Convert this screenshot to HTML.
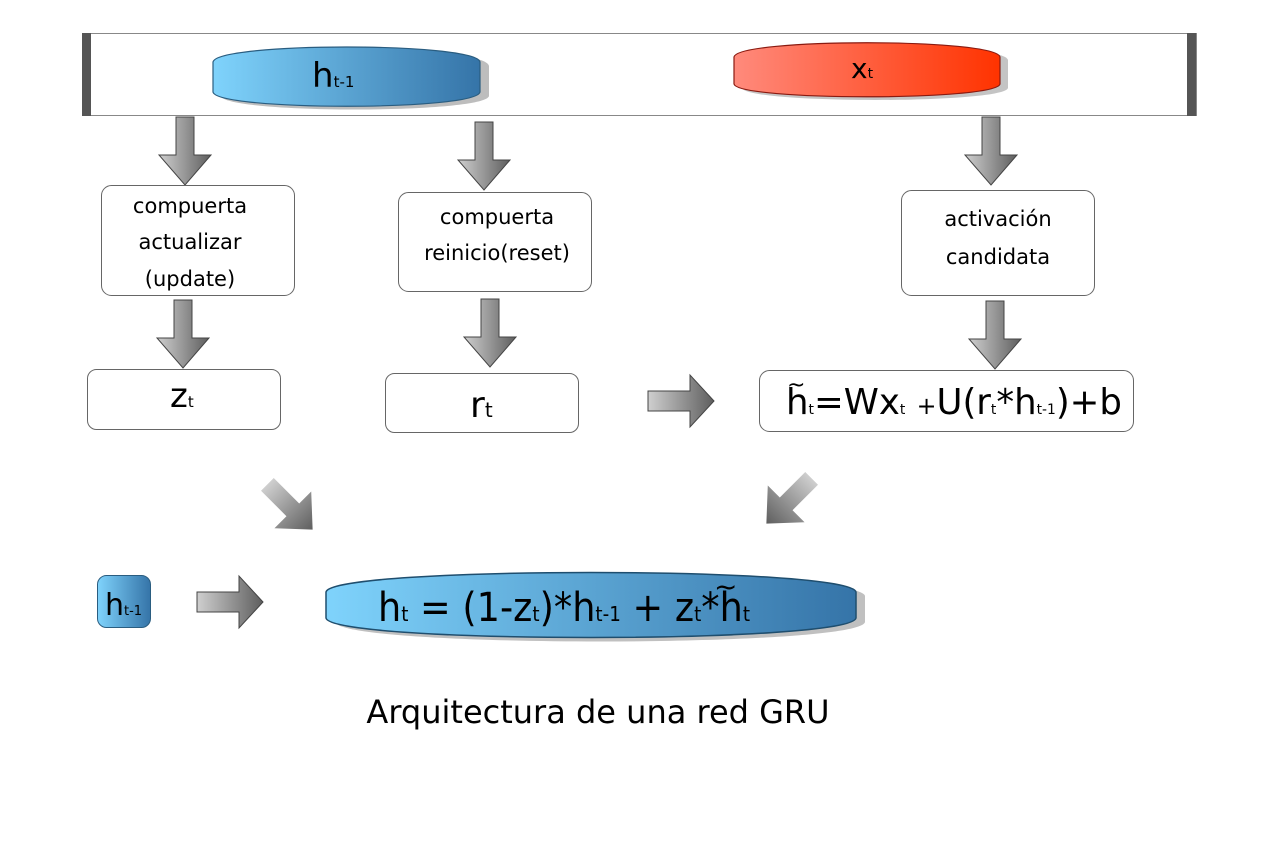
<!DOCTYPE html>
<html><head><meta charset="utf-8"><style>
html,body{margin:0;padding:0;background:#fff;}
svg{display:block;}
text{font-family:"DejaVu Sans","Liberation Sans",sans-serif;fill:#000;}
</style></head><body>
<svg width="1266" height="850" viewBox="0 0 1266 850" xmlns="http://www.w3.org/2000/svg">
<defs>
<linearGradient id="ar" x1="0" y1="0" x2="1" y2="0"><stop offset="0" stop-color="#cfcfcf"/><stop offset="1" stop-color="#5e5e5e"/></linearGradient>
<linearGradient id="blue" x1="0" y1="0" x2="1" y2="0"><stop offset="0" stop-color="#7fd3fc"/><stop offset="1" stop-color="#3574a8"/></linearGradient>
<linearGradient id="red" x1="0" y1="0" x2="1" y2="0"><stop offset="0" stop-color="#ff8a7c"/><stop offset="1" stop-color="#ff3300"/></linearGradient>
<g id="down"><path d="M-9,0 L9,0 L9,38 L26,38 L0,68 L-26,38 L-9,38 Z" fill="url(#ar)" stroke="#444" stroke-width="1"/></g>
<g id="right"><path d="M0,-10 L42,-10 L42,-26 L66,0 L42,26 L42,10 L0,10 Z" fill="url(#ar)" stroke="#444" stroke-width="1"/></g>
<g id="diag"><path d="M-32,-9 L4,-9 L4,-26 L32,0 L4,26 L4,9 L-32,9 Z" fill="url(#ar)"/></g>
</defs>

<rect x="82.5" y="33.5" width="1114" height="82" fill="#fff" stroke="#888" stroke-width="1"/>
<rect x="82" y="33" width="9" height="83" fill="#555"/>
<rect x="1187" y="33" width="9" height="83" fill="#555"/>

<!-- h_{t-1} pill -->
<path d="M221,66 C225,44 485,44 489,66 L489,96 C485,114 225,114 221,96 Z" fill="#bdbdbd"/>
<path d="M213,62 C217,42 476,42 480,62 L480,92 C476,111 217,111 213,92 Z" fill="url(#blue)" stroke="#2a5d80" stroke-width="1.2"/>
<text x="312" y="87" font-size="34">h<tspan font-size="15">t-1</tspan></text>

<!-- x_t pill -->
<path d="M742,60 C746,41 1004,41 1008,60 L1008,88 C1004,104 746,104 742,88 Z" fill="#c4c4c4"/>
<path d="M734,57 C738,38 996,38 1000,57 L1000,84 C996,101 738,101 734,84 Z" fill="url(#red)" stroke="#8a1a10" stroke-width="1.2"/>
<text x="851" y="78" font-size="28">x<tspan font-size="14">t</tspan></text>

<use href="#down" x="185" y="117"/>
<use href="#down" x="484" y="122"/>
<use href="#down" x="991" y="117"/>
<use href="#down" x="183" y="300"/>
<use href="#down" x="490" y="299"/>
<use href="#down" x="995" y="301"/>

<rect x="101.5" y="185.5" width="193" height="110" rx="10" fill="#fff" stroke="#666"/>
<text x="190" y="213" font-size="21" text-anchor="middle">compuerta</text>
<text x="190" y="249" font-size="21" text-anchor="middle">actualizar</text>
<text x="190" y="286" font-size="21" text-anchor="middle">(update)</text>

<rect x="398.5" y="192.5" width="193" height="99" rx="10" fill="#fff" stroke="#666"/>
<text x="497" y="224" font-size="21" text-anchor="middle">compuerta</text>
<text x="497" y="260" font-size="21" text-anchor="middle">reinicio(reset)</text>

<rect x="901.5" y="190.5" width="193" height="105" rx="10" fill="#fff" stroke="#666"/>
<text x="998" y="226" font-size="21" text-anchor="middle">activación</text>
<text x="998" y="264" font-size="21" text-anchor="middle">candidata</text>

<rect x="87.5" y="369.5" width="193" height="60" rx="9" fill="#fff" stroke="#666"/>
<text x="170" y="407" font-size="34">z<tspan font-size="15">t</tspan></text>

<rect x="385.5" y="373.5" width="193" height="59" rx="9" fill="#fff" stroke="#666"/>
<text x="470" y="417" font-size="36">r<tspan font-size="20">t</tspan></text>

<use href="#right" x="648" y="401"/>

<rect x="759.5" y="370.5" width="374" height="61" rx="10" fill="#fff" stroke="#666"/>
<text x="786" y="414" font-size="36" textLength="336" lengthAdjust="spacingAndGlyphs">h<tspan font-size="14">t</tspan>=Wx<tspan font-size="14">t</tspan> <tspan font-size="24">+</tspan>U(r<tspan font-size="14">t</tspan>*h<tspan font-size="14">t-1</tspan>)+b</text>
<text x="787" y="392" font-size="22">~</text>

<use href="#diag" transform="translate(290,507) rotate(45)"/>
<use href="#diag" transform="translate(789,501) rotate(135)"/>

<rect x="97.5" y="575.5" width="53" height="52" rx="9" fill="url(#blue)" stroke="#2a5d80"/>
<text x="105" y="615" font-size="30">h<tspan font-size="13">t-1</tspan></text>

<use href="#right" x="197" y="602"/>

<path d="M335,596 C340,570 860,570 865,596 L865,622 C860,648 340,648 335,622 Z" fill="#c0c0c0"/>
<path d="M326,592 C331,566 851,566 856,592 L856,618 C851,644 331,644 326,618 Z" fill="url(#blue)" stroke="#1f4e6e" stroke-width="1.5"/>
<text x="378" y="621" font-size="40" textLength="372" lengthAdjust="spacingAndGlyphs">h<tspan font-size="20">t</tspan> = (1-z<tspan font-size="20">t</tspan>)*h<tspan font-size="20">t-1</tspan> + z<tspan font-size="20">t</tspan>*h<tspan font-size="20">t</tspan></text>
<text x="714" y="596" font-size="28">~</text>

<text x="598" y="723" font-size="32" text-anchor="middle">Arquitectura de una red GRU</text>
</svg>
</body></html>
